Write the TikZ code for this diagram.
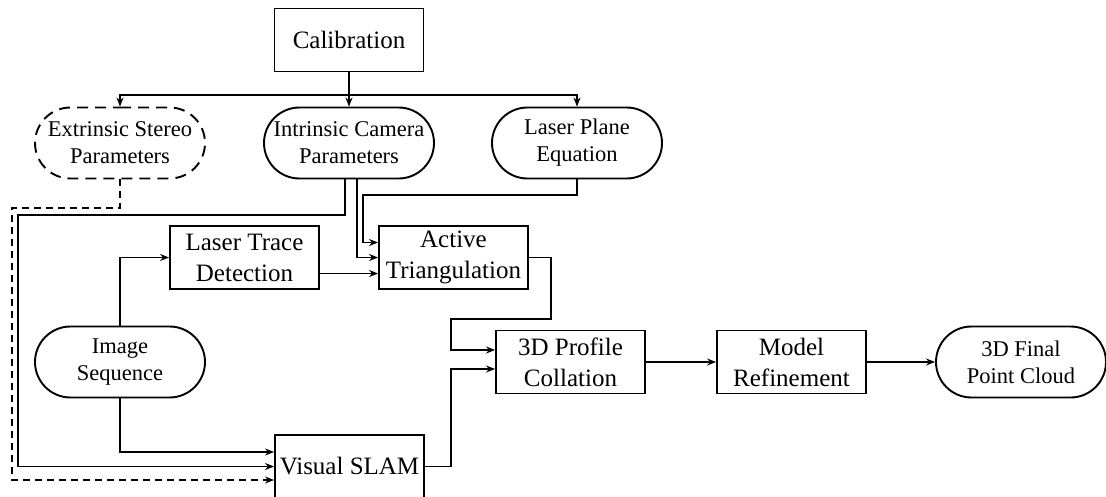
\documentclass[tikz,border=0pt]{standalone}
\usepackage{fontspec}
\setmainfont{Liberation Serif}
\usepackage{tikz}
\usetikzlibrary{arrows.meta,positioning,shapes.misc}

\tikzset{
  procbox/.style={draw, line width=1.9pt, minimum width=149pt, minimum height=63pt,
    inner sep=0pt, align=center, font=\fontsize{25}{31}\selectfont},
  datanode/.style={draw, rounded rectangle, line width=1.9pt, minimum width=170pt,
    minimum height=71pt, inner sep=0pt, align=center, font=\fontsize{22.5}{27}\selectfont},
  conn/.style={line width=1.2pt, -{Stealth[length=9pt,width=7pt]}},
}

\begin{document}
\begin{tikzpicture}[x=1pt, y=-1pt]
  \useasboundingbox (0,0) rectangle (1106,496);

  % Calibration and its outputs
  \node[procbox] (cal) at (349,40) {Calibration};
  \node[datanode, dash pattern=on 11pt off 7pt] (ext) at (120,143) {Extrinsic Stereo\\Parameters};
  \node[datanode] (intr) at (349,143) {Intrinsic Camera\\Parameters};
  \node[datanode] (plane) at (577,143) {Laser Plane\\Equation};

  % Processing chain
  \node[datanode] (img) at (120,362) {Image\\Sequence};
  \node[procbox] (trace) at (244.5,257.5) {Laser Trace\\Detection};
  \node[procbox] (act) at (453.5,257.5) {Active\\Triangulation};
  \node[procbox] (vslam) at (349.5,466.5) {Visual SLAM};
  \node[procbox] (prof) at (570.5,362) {3D Profile\\Collation};
  \node[procbox] (refine) at (791.5,362) {Model\\Refinement};
  \node[datanode] (cloud) at (1021,362) {3D Final\\Point Cloud};

  % Calibration fan-out
  \coordinate (bus) at (349,95);
  \draw[conn] (cal.south) -- (intr.north);
  \draw[conn] (bus) -| (ext.north);
  \draw[conn] (bus) -| (plane.north);

  % Calibration results into the chain
  \draw[conn, dash pattern=on 7pt off 5pt] (ext.south) |- (12,208) |- ([yshift=-13.5pt]vslam.west);
  \draw[conn] ([xshift=-4pt]intr.south) |- (18,215) |- (vslam.west);
  \draw[conn] ([xshift=8pt]intr.south) |- (act.west);
  \draw[conn] (plane.south) |- (363,195) |- ([yshift=15pt]act.west);

  % Image branch
  \draw[conn] (img.north) |- (trace.west);
  \draw[conn] (img.south) |- ([yshift=14.5pt]vslam.west);
  \draw[conn] ([yshift=-16pt]trace.east) -- ([yshift=-16pt]act.west);

  % Merge and output
  \draw[conn] (act.east) -| (551,319) -| (451,350) -- ([yshift=12pt]prof.west);
  \draw[conn] (vslam.east) -| (451,369) -- ([yshift=-7pt]prof.west);
  \draw[conn] (prof) -- (refine);
  \draw[conn] (refine) -- (cloud);
\end{tikzpicture}
\end{document}
